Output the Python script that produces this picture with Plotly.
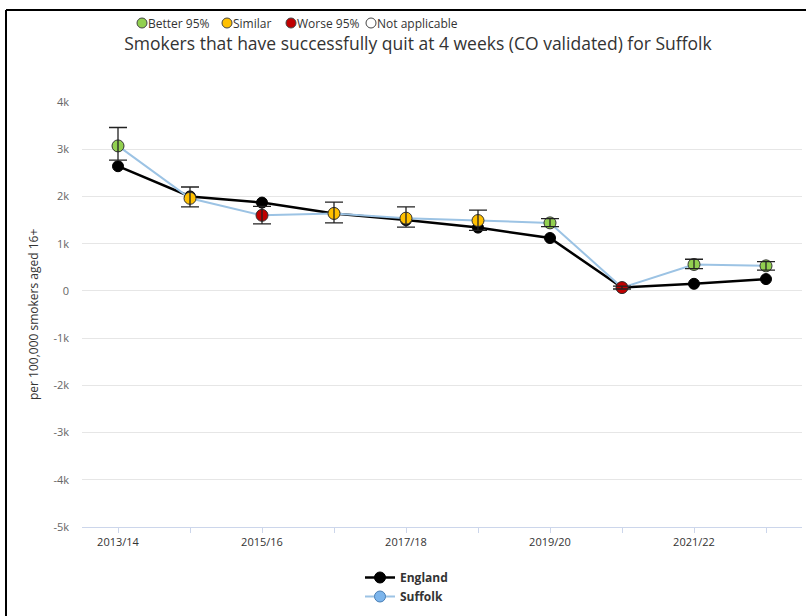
import plotly.graph_objects as go

# ---------------- data ----------------
years = ["2013/14", "2014/15", "2015/16", "2016/17", "2017/18",
         "2018/19", "2019/20", "2020/21", "2021/22", "2022/23"]
x_tick_labels = ["2013/14", "", "2015/16", "", "2017/18", "", "2019/20", "", "2021/22", ""]

england = [2640, 2000, 1870, 1640, 1500, 1340, 1120, 70, 150, 250]
suffolk = [3070, 1960, 1600, 1640, 1540, 1490, 1440, 70, 560, 530]
suffolk_upper = [3460, 2200, 1790, 1880, 1780, 1710, 1530, 100, 670, 620]
suffolk_lower = [2770, 1780, 1420, 1440, 1350, 1280, 1360, 40, 470, 440]
suffolk_sig = ["Better 95%", "Similar", "Worse 95%", "Similar", "Similar",
               "Similar", "Better 95%", "Worse 95%", "Better 95%", "Better 95%"]

sig_labels = ["Better 95%", "Similar", "Worse 95%", "Not applicable"]
sig_colors = ["#92d050", "#ffc000", "#c00000", "#ffffff"]

y_tick_vals = [4000, 3000, 2000, 1000, 0, -1000, -2000, -3000, -4000, -5000]
y_tick_text = ["4k", "3k", "2k", "1k", "0", "-1k", "-2k", "-3k", "-4k", "-5k"]

title = "Smokers that have successfully quit at 4 weeks (CO validated) for Suffolk"
y_title = "per 100,000 smokers aged 16+"

# ---------------- layout helpers ----------------
W, H = 806, 616
PL, PR, PT, PB = 82, 802, 102, 527


def xp(px):
    return (px - PL) / (PR - PL)


def yp(py):
    return (PB - py) / (PB - PT)


FONT = "Open Sans"
color_map = dict(zip(sig_labels, sig_colors))
suffolk_colors = [color_map[s] for s in suffolk_sig]

err_plus = [u - v for u, v in zip(suffolk_upper, suffolk)]
err_minus = [v - l for v, l in zip(suffolk, suffolk_lower)]

fig = go.Figure()

fig.add_trace(go.Scatter(
    x=years, y=england, name="England", mode="lines+markers",
    line=dict(color="#000000", width=2.5),
    marker=dict(size=11, color="#000000", line=dict(color="#000000", width=1)),
))

fig.add_trace(go.Scatter(
    x=years, y=suffolk, name="Suffolk", mode="lines+markers",
    line=dict(color="#9cc3e4", width=2),
    marker=dict(size=12, color=suffolk_colors, line=dict(color="#333333", width=1)),
    showlegend=False,
))

# error bars drawn above the markers
fig.add_trace(go.Scatter(
    x=years, y=suffolk, mode="markers", showlegend=False, hoverinfo="skip",
    marker=dict(size=1, color="rgba(0,0,0,0)"),
    error_y=dict(type="data", symmetric=False, array=err_plus, arrayminus=err_minus,
                 color="#222222", thickness=1.3, width=9),
))

# legend entry for Suffolk (blue)
fig.add_trace(go.Scatter(
    x=[None], y=[None], name="Suffolk", mode="lines+markers",
    line=dict(color="#9cc3e4", width=2),
    marker=dict(size=11, color="#7cb5ec", line=dict(color="#4a7fb5", width=1)),
))

shapes = []
annotations = []

# significance key at top
key_circle_px = [142, 227, 291, 371]
for lab, col, cx in zip(sig_labels, sig_colors, key_circle_px):
    shapes.append(dict(
        type="circle", xref="paper", yref="paper", xsizemode="pixel", ysizemode="pixel",
        xanchor=xp(cx), yanchor=yp(23), x0=-5, x1=5, y0=-5, y1=5,
        fillcolor=col, line=dict(color="#444444", width=1),
    ))
    annotations.append(dict(
        text=lab, xref="paper", yref="paper", x=xp(cx + 5), y=yp(23),
        xanchor="left", yanchor="middle", showarrow=False, borderpad=0,
        font=dict(family=FONT, size=12, color="#333333"),
    ))

# y-axis title
annotations.append(dict(
    text=y_title, xref="paper", yref="paper", x=xp(33), y=yp(315),
    xanchor="center", yanchor="middle", textangle=-90, showarrow=False,
    font=dict(family=FONT, size=12, color="#333333"),
))

# frame lines (top and left)
shapes.append(dict(type="line", xref="paper", yref="paper",
                   x0=xp(6), x1=xp(806), y0=yp(10), y1=yp(10),
                   line=dict(color="#000000", width=2)))
shapes.append(dict(type="line", xref="paper", yref="paper",
                   x0=xp(6), x1=xp(6), y0=yp(10), y1=yp(616),
                   line=dict(color="#000000", width=2)))

fig.update_layout(
    width=W, height=H,
    margin=dict(l=PL, r=W - PR, t=PT, b=H - PB, pad=0),
    paper_bgcolor="#ffffff", plot_bgcolor="#ffffff",
    font=dict(family=FONT, size=11, color="#333333"),
    title=dict(text=title, x=418 / W, y=1 - 44 / H, xref="container", yref="container",
               xanchor="center", yanchor="middle",
               font=dict(family=FONT, size=17.5, color="#333333")),
    xaxis=dict(
        type="category", range=[-0.5, 9.5], tickmode="array",
        tickvals=years, ticktext=x_tick_labels,
        showline=True, linecolor="#ccd6eb", linewidth=1,
        ticks="outside", ticklen=5, tickcolor="#ccd6eb",
        showgrid=False, zeroline=False,
        tickfont=dict(family=FONT, size=11, color="#333333"),
    ),
    yaxis=dict(
        range=[-5000, 4000], tickmode="array", tickvals=y_tick_vals, ticktext=y_tick_text,
        showgrid=True, gridcolor="#e6e6e6", gridwidth=1, zeroline=False,
        showline=False, ticks="", ticklabelstandoff=12,
        tickfont=dict(family=FONT, size=11, color="#666666"),
    ),
    showlegend=True,
    legend=dict(
        orientation="v", x=xp(360), y=yp(563), xanchor="left", yanchor="top",
        itemwidth=30, tracegroupgap=0,
        font=dict(family=FONT, size=12, color="#333333", weight="bold"),
        bgcolor="rgba(0,0,0,0)",
    ),
    shapes=shapes,
    annotations=annotations,
)

fig.write_html("out.html", config={"displayModeBar": False},
               post_script="document.body.style.margin='0';")
